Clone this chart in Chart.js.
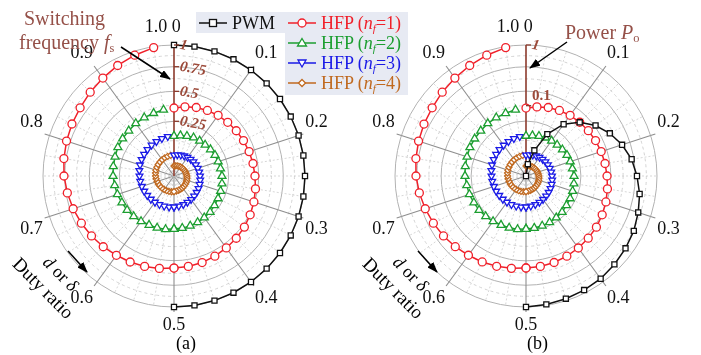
<!DOCTYPE html>
<html>
<head>
<meta charset="utf-8">
<script src="https://cdn.jsdelivr.net/npm/chart.js@4.4.1/dist/chart.umd.min.js"></script>
<style>
html, body { margin: 0; padding: 0; background: #fff; }
#page { position: relative; width: 701px; height: 355px; overflow: hidden; font-family: "Liberation Serif", "Times New Roman", serif; }
.plot { position: absolute; top: 0; height: 355px; }
.txt { position: absolute; white-space: nowrap; line-height: 1; }
.brown { color: #955048; }
.lgbg { position: absolute; background: #e7eaf3; }
.lg { position: absolute; height: 20px; display: flex; align-items: center; font-size: 18px; white-space: nowrap; }
.lg svg { margin-right: 5px; }
sub { font-size: 0.62em; vertical-align: -0.25em; }
</style>
</head>
<body>
<div id="page">
  <div class="plot" style="left:0;width:350px"><canvas id="chartA"></canvas></div>
  <div class="plot" style="left:350px;width:351px"><canvas id="chartB"></canvas></div>

  <div class="lgbg" style="left:196px;top:12px;width:89px;height:21px"></div>
  <div class="lgbg" style="left:285px;top:12px;width:123px;height:83px"></div>
  <div id="legend"></div>

  <div class="txt brown" style="left:24px;top:8px;font-size:20px">Switching</div>
  <div class="txt brown" style="left:19px;top:32px;font-size:20px">frequency <i>f</i><sub>s</sub></div>
  <div class="txt brown" style="left:565px;top:22px;font-size:20px">Power <i>P</i><sub>o</sub></div>

  <div class="txt" style="left:46px;top:250px;font-size:18px;transform:rotate(45deg);transform-origin:0 50%"><i>d</i> or <i>δ</i></div>
  <div class="txt" style="left:16px;top:251px;font-size:19px;transform:rotate(45deg);transform-origin:0 50%">Duty ratio</div>
  <div class="txt" style="left:396px;top:250px;font-size:18px;transform:rotate(45deg);transform-origin:0 50%"><i>d</i> or <i>δ</i></div>
  <div class="txt" style="left:366px;top:251px;font-size:19px;transform:rotate(45deg);transform-origin:0 50%">Duty ratio</div>

  <div class="txt" style="left:176px;top:334px;font-size:18px">(a)</div>
  <div class="txt" style="left:527px;top:334px;font-size:18px">(b)</div>

  <svg width="701" height="355" style="position:absolute;left:0;top:0;pointer-events:none">
    <defs>
      <marker id="ah" markerUnits="userSpaceOnUse" markerWidth="11" markerHeight="8" refX="10" refY="4" orient="auto">
        <path d="M0,0 L11,4 L0,8 z" fill="#000"/>
      </marker>
    </defs>
    <line x1="121" y1="47" x2="170" y2="79" stroke="#000" stroke-width="1.5" marker-end="url(#ah)"/>
    <line x1="567" y1="42" x2="530" y2="68" stroke="#000" stroke-width="1.5" marker-end="url(#ah)"/>
    <line x1="68" y1="251" x2="87" y2="272" stroke="#000" stroke-width="1.5" marker-end="url(#ah)"/>
    <line x1="418" y1="251" x2="437" y2="272" stroke="#000" stroke-width="1.5" marker-end="url(#ah)"/>
  </svg>
</div>

<script>
// duty ratio d (angular axis), one full turn = 0 .. 1
const dutyRatio = [0, 0.025, 0.05, 0.075, 0.1, 0.125, 0.15, 0.175, 0.2, 0.225,
  0.25, 0.275, 0.3, 0.325, 0.35, 0.375, 0.4, 0.425, 0.45, 0.475,
  0.5, 0.525, 0.55, 0.575, 0.6, 0.625, 0.65, 0.675, 0.7, 0.725,
  0.75, 0.775, 0.8, 0.825, 0.85, 0.875, 0.9, 0.925, 0.95, 0.975];
const dutyTickLabels = ['1.0 0', '0.1', '0.2', '0.3', '0.4', '0.5', '0.6', '0.7', '0.8', '0.9'];

const seriesNames = ['PWM', 'HFP', 'HFP', 'HFP', 'HFP'];
const nfValues = [null, 1, 2, 3, 4];

// (a) switching frequency fs (normalised)
const fsPWM = [1, 1, 1, 1, 1, 1, 1, 1, 1, 1, 1, 1, 1, 1, 1, 1, 1, 1, 1, 1, 1,
  null, null, null, null, null, null, null, null, null, null, null, null, null, null, null, null, null, null, null];
const fsHFP1 = [0.353, 0.370, 0.387, 0.400, 0.413, 0.421, 0.430, 0.439, 0.448, 0.457,
  0.466, 0.480, 0.494, 0.508, 0.522, 0.532, 0.541, 0.551, 0.561, 0.566,
  0.571, 0.586, 0.601, 0.616, 0.631, 0.652, 0.672, 0.693, 0.715, 0.736,
  0.758, 0.774, 0.791, 0.808, 0.825, 0.853, 0.882, 0.917, 0.952, 0.988];
const fsHFP2 = [0.152, 0.158, 0.164, 0.171, 0.174, 0.177, 0.184, 0.190, 0.193, 0.197,
  0.203, 0.207, 0.210, 0.213, 0.217, 0.224, 0.227, 0.231, 0.234, 0.236,
  0.238, 0.245, 0.249, 0.252, 0.260, 0.267, 0.274, 0.278, 0.286, 0.290,
  0.297, 0.301, 0.305, 0.313, 0.317, 0.321, 0.329, 0.333, 0.337, 0.345];
const fsHFP3 = [0.0547, 0.0568, 0.0589, 0.0611, 0.0632, 0.0654, 0.0677, 0.0699, 0.0722, 0.0745,
  0.0768, 0.0792, 0.0815, 0.0840, 0.0864, 0.0889, 0.0914, 0.0939, 0.0964, 0.0990,
  0.1015, 0.1036, 0.1052, 0.1073, 0.1089, 0.1110, 0.1127, 0.1148, 0.1165, 0.1187,
  0.1203, 0.1237, 0.1271, 0.1304, 0.1339, 0.1373, 0.1409, 0.1444, 0.1480, 0.1516];
const fsHFP4 = [0.0169, 0.0177, 0.0185, 0.0191, 0.0199, 0.0208, 0.0216, 0.0225, 0.0231, 0.0240,
  0.0250, 0.0259, 0.0268, 0.0275, 0.0285, 0.0294, 0.0304, 0.0314, 0.0321, 0.0331,
  0.0342, 0.0352, 0.0363, 0.0370, 0.0381, 0.0392, 0.0403, 0.0414, 0.0421, 0.0432,
  0.0444, 0.0455, 0.0467, 0.0475, 0.0487, 0.0498, 0.0510, 0.0523, 0.0531, 0.0543];
const fsGrid = [0.125, 0.25, 0.375, 0.5, 0.625, 0.75, 0.875, 1];
const fsMajor = [0.25, 0.5, 0.75, 1];
const fsTickLabels = [0.25, 0.5, 0.75, 1];

// (b) output power Po (normalised)
const poPWM = [0, 0.00014, 0.0029, 0.0224, 0.0704, 0.133, 0.210, 0.293, 0.382, 0.472,
  0.541, 0.618, 0.679, 0.745, 0.792, 0.841, 0.891, 0.918, 0.945, 0.972, 1,
  null, null, null, null, null, null, null, null, null, null, null, null, null, null, null, null, null, null, null];
const poHFP1 = [0.088, 0.098, 0.109, 0.118, 0.127, 0.133, 0.140, 0.147, 0.154, 0.161,
  0.169, 0.180, 0.193, 0.206, 0.220, 0.229, 0.239, 0.249, 0.259, 0.265,
  0.270, 0.287, 0.304, 0.322, 0.341, 0.368, 0.396, 0.425, 0.456, 0.489,
  0.524, 0.550, 0.578, 0.607, 0.637, 0.690, 0.745, 0.816, 0.892, 0.972];
const poHFP2 = [0.0124, 0.0135, 0.0148, 0.0161, 0.0169, 0.0176, 0.0191, 0.0207, 0.0216, 0.0224,
  0.0243, 0.0252, 0.0262, 0.0272, 0.0282, 0.0304, 0.0315, 0.0326, 0.0336, 0.0343,
  0.0350, 0.0375, 0.0388, 0.0402, 0.0430, 0.0459, 0.0489, 0.0505, 0.0538, 0.0554,
  0.0590, 0.0608, 0.0626, 0.0664, 0.0684, 0.0704, 0.0746, 0.0768, 0.0789, 0.0835];
const poHFP3 = [0.00114, 0.00124, 0.00135, 0.00147, 0.00159, 0.00172, 0.00186, 0.00201, 0.00217, 0.00233,
  0.00250, 0.00269, 0.00288, 0.00308, 0.00329, 0.00352, 0.00375, 0.00400, 0.00425, 0.00452,
  0.00480, 0.00504, 0.00522, 0.00547, 0.00566, 0.00592, 0.00612, 0.00640, 0.00662, 0.00691,
  0.00714, 0.00761, 0.00810, 0.00862, 0.00916, 0.00972, 0.01031, 0.01092, 0.01156, 0.01223];
const poHFP4 = [0.0000728, 0.0000812, 0.0000903, 0.0000968, 0.000107, 0.000118, 0.000130, 0.000143, 0.000152, 0.000166,
  0.000181, 0.000198, 0.000215, 0.000227, 0.000246, 0.000266, 0.000288, 0.000311, 0.000326, 0.000351,
  0.000377, 0.000405, 0.000434, 0.000454, 0.000486, 0.000519, 0.000554, 0.000590, 0.000615, 0.000654,
  0.000696, 0.000738, 0.000783, 0.000814, 0.000862, 0.000913, 0.000965, 0.00102, 0.00106, 0.00112];
const poGrid = [0.008, 0.04, 0.1, 0.2, 0.33, 0.51, 0.73, 1];
const poMajor = [0.04, 0.2, 0.51, 1];
const poTickLabels = [0.1, 1];

const colors = ['#111111', '#f0202a', '#1c9e30', '#1a1ae6', '#c0691f'];
const markers = [
  { style: 'rect', radius: 3.6, rotation: 0 },
  { style: 'circle', radius: 4, rotation: 0 },
  { style: 'triangle', radius: 4.6, rotation: 0 },
  { style: 'triangle', radius: 3.9, rotation: 180 },
  { style: 'rectRot', radius: 3, rotation: 0 }
];
const axisBrown = '#8c3a2c';

// radial scale with a power-law spacing of the rings
class PowerRadialScale extends Chart.RadialLinearScale {
  getDistanceFromCenterForValue(value) {
    if (value === null || value === undefined || isNaN(value)) return NaN;
    const t = Math.min(Math.max((value - this.min) / (this.max - this.min), 0), 1);
    return this.drawingArea * Math.pow(t, this.options.exponent || 1);
  }
  getValueForDistanceFromCenter(distance) {
    const t = Math.pow(distance / this.drawingArea, 1 / (this.options.exponent || 1));
    return this.min + t * (this.max - this.min);
  }
  setCenterPoint(l, r, t, b) {
    super.setCenterPoint(l, r, t, b);
    const f = this.options.frame;
    if (f) {
      this.xCenter = f.x;
      this.yCenter = f.y;
      this.drawingArea = f.r;
    }
  }
}
PowerRadialScale.id = 'radialPower';
PowerRadialScale.defaults = Chart.RadialLinearScale.defaults;
Chart.register(PowerRadialScale);

function axisLabels(values, dyFor, italic) {
  return {
    id: 'axisLabels',
    beforeDatasetsDraw(chart) {
      // short leader lines from the outer ring to the 0.1-step labels
      const s = chart.scales.r;
      const ctx = chart.ctx;
      ctx.save();
      ctx.strokeStyle = '#8e8e8e';
      ctx.lineWidth = 1.1;
      for (let i = 4; i < dutyRatio.length; i += 4) {
        const a = s.getPointPosition(i, s.drawingArea);
        const b = s.getPointPosition(i, s.drawingArea + 5);
        ctx.beginPath();
        ctx.moveTo(a.x, a.y);
        ctx.lineTo(b.x, b.y);
        ctx.stroke();
      }
      ctx.restore();
    },
    afterDraw(chart) {
      const s = chart.scales.r;
      const ctx = chart.ctx;
      ctx.save();
      ctx.strokeStyle = axisBrown;
      ctx.fillStyle = '#9c4a3a';
      ctx.lineWidth = 1.3;
      ctx.textBaseline = 'middle';
      ctx.textAlign = 'left';
      values.forEach(v => {
        const y = s.yCenter - s.getDistanceFromCenterForValue(v);
        ctx.beginPath();
        ctx.moveTo(s.xCenter, y);
        ctx.lineTo(s.xCenter + 5, y);
        ctx.stroke();
        ctx.save();
        ctx.translate(s.xCenter + 6, y + dyFor(v));
        ctx.rotate(italic || v === 1 ? 0.18 : 0);
        ctx.font = (italic || v === 1 ? 'italic ' : '') + 'bold 15px "Liberation Serif"';
        ctx.fillText(String(v), 0, 0);
        ctx.restore();
      });
      ctx.restore();
    }
  };
}

function makeDataset(data, k) {
  return {
    label: seriesNames[k] + (nfValues[k] ? ' (nf=' + nfValues[k] + ')' : ''),
    data: data,
    borderColor: colors[k],
    borderWidth: 1.5,
    fill: false,
    spanGaps: false,
    pointStyle: markers[k].style,
    pointRadius: markers[k].radius,
    pointRotation: markers[k].rotation,
    pointBorderWidth: 1.3,
    pointBorderColor: colors[k],
    pointBackgroundColor: '#ffffff'
  };
}

function makePolar(canvasId, series, grid, major, exponent, frame, tickValues, tickDy, italic) {
  const datasets = [];
  const half = dutyRatio.indexOf(0.5);
  series.forEach((data, k) => {
    if (k === 0) {
      datasets.push(makeDataset(data, k));
    } else {
      // a spiral is one open turn: split in two halves so the radar loop is not closed
      datasets.push(makeDataset(data.map((v, i) => i <= half ? v : null), k));
      datasets.push(makeDataset(data.map((v, i) => i >= half ? v : null), k));
    }
  });
  return new Chart(document.getElementById(canvasId), {
    type: 'radar',
    data: { labels: dutyRatio.map(String), datasets: datasets },
    options: {
      responsive: true,
      maintainAspectRatio: false,
      animation: false,
      plugins: { legend: { display: false }, tooltip: { enabled: false } },
      elements: { line: { tension: 0 } },
      scales: {
        r: {
          type: 'radialPower',
          exponent: exponent,
          frame: frame,
          min: 0,
          max: 1,
          startAngle: 0,
          afterBuildTicks: s => { s.ticks = [0].concat(grid).map(v => ({ value: v })); },
          ticks: { display: false },
          grid: {
            circular: true,
            lineWidth: 1,
            color: c => (c.tick && major.includes(c.tick.value)) ? '#b2b2b2' : '#d2d2d2'
          },
          border: {
            dash: c => (c.tick && major.includes(c.tick.value)) ? [] : [3, 3]
          },
          angleLines: {
            color: c => c.index === 0 ? axisBrown : (c.index % 4 === 0 ? '#8e8e8e' : '#cdcdcd'),
            lineWidth: c => c.index === 0 ? 1.6 : (c.index % 4 === 0 ? 1.1 : 0.8),
            borderDash: c => c.index % 4 === 0 ? [] : [2, 2]
          },
          pointLabels: {
            font: { family: 'Liberation Serif', size: 18 },
            color: '#111',
            padding: 7,
            callback: (label, i) => i % 4 === 0 ? dutyTickLabels[i / 4] + (i === 0 ? '     ' : '') : ''
          }
        }
      }
    },
    plugins: [axisLabels(tickValues, tickDy, italic)]
  });
}

makePolar('chartA', [fsPWM, fsHFP1, fsHFP2, fsHFP3, fsHFP4], fsGrid, fsMajor, 0.63,
  { x: 174, y: 176, r: 131 }, fsTickLabels, v => 0, true);
makePolar('chartB', [poPWM, poHFP1, poHFP2, poHFP3, poHFP4], poGrid, poMajor, 0.27,
  { x: 176, y: 176, r: 131 }, poTickLabels, v => v < 1 ? -10 : 0, false);

// legend
function swatch(k) {
  const c = colors[k];
  let m = '';
  if (k === 0) m = '<rect x="10.5" y="6.5" width="7" height="7" fill="#fff" stroke="' + c + '" stroke-width="1.3"/>';
  if (k === 1) m = '<circle cx="14" cy="10" r="4" fill="#fff" stroke="' + c + '" stroke-width="1.3"/>';
  if (k === 2) m = '<polygon points="14,5.5 18.5,13 9.5,13" fill="#fff" stroke="' + c + '" stroke-width="1.3"/>';
  if (k === 3) m = '<polygon points="14,14 18,7 10,7" fill="#fff" stroke="' + c + '" stroke-width="1.3"/>';
  if (k === 4) m = '<polygon points="14,6.5 17.5,10 14,13.5 10.5,10" fill="#fff" stroke="' + c + '" stroke-width="1.3"/>';
  return '<svg width="28" height="20"><line x1="0" y1="10" x2="28" y2="10" stroke="' + c + '" stroke-width="1.5"/>' + m + '</svg>';
}
let html = '';
seriesNames.forEach((name, k) => {
  const left = k === 0 ? 199 : 288;
  const top = k === 0 ? 13 : 13 + (k - 1) * 20;
  const text = nfValues[k] ? name + ' (<i>n</i><sub><i>f</i></sub>=' + nfValues[k] + ')' : name;
  html += '<div class="lg" style="left:' + left + 'px;top:' + top + 'px;color:' + colors[k] + '">' + swatch(k) + '<span>' + text + '</span></div>';
});
document.getElementById('legend').innerHTML = html;
</script>
</body>
</html>
